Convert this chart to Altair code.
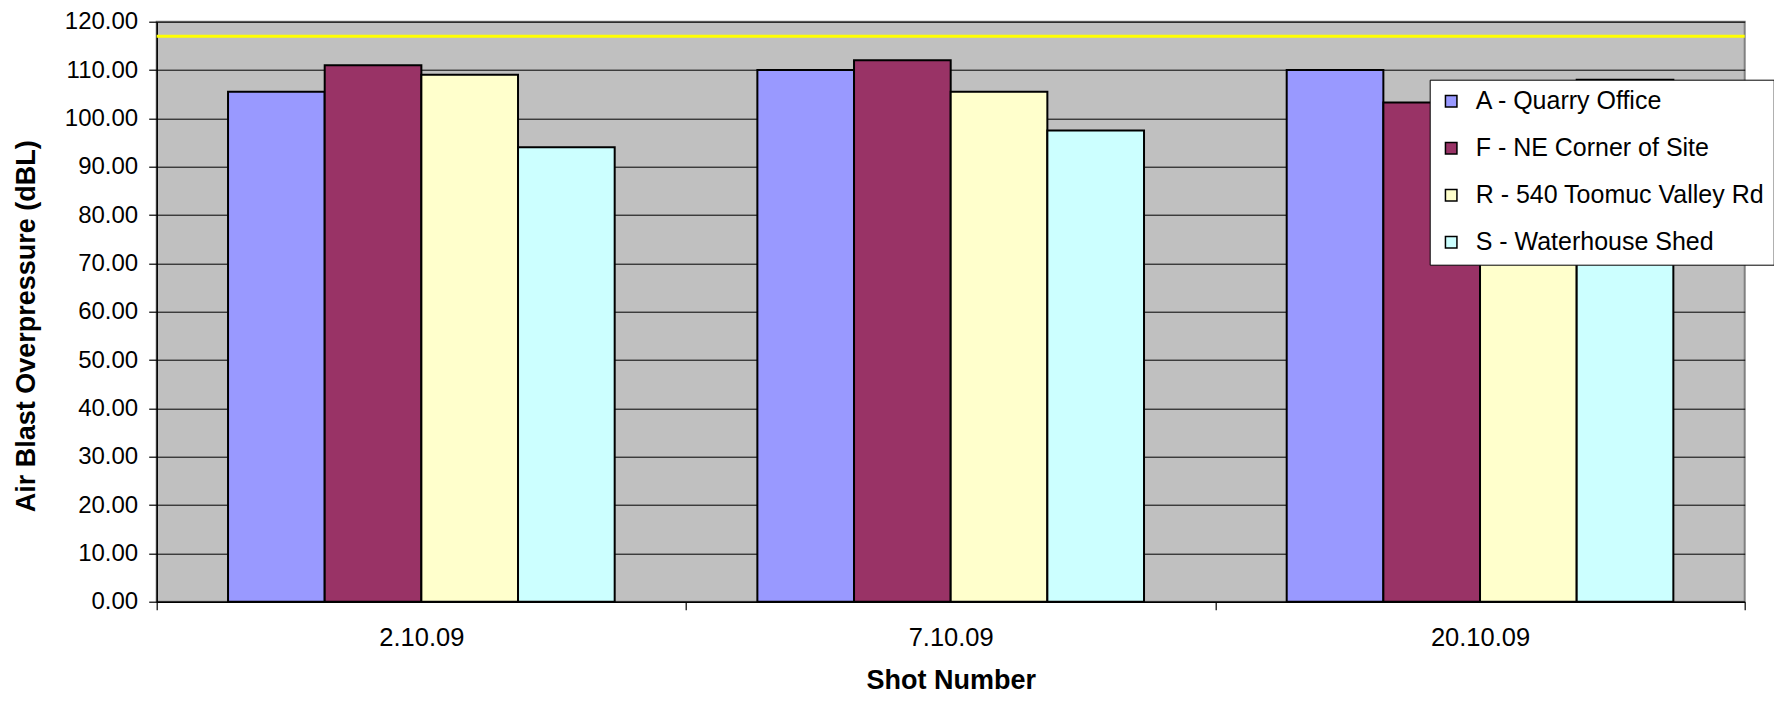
import altair as alt
import pandas as pd

shots = ["2.10.09", "7.10.09", "20.10.09"]
locations = [
    "A - Quarry Office",
    "F - NE Corner of Site",
    "R - 540 Toomuc Valley Rd",
    "S - Waterhouse Shed",
]
a_vals = [105.5, 110.0, 110.0]
f_vals = [111.0, 112.0, 103.3]
r_vals = [109.0, 105.5, 101.0]
s_vals = [94.0, 97.5, 108.0]
colors = ["#9999FF", "#993366", "#FFFFCC", "#CCFFFF"]
limit = [117.0]
y_ticks = [0, 10, 20, 30, 40, 50, 60, 70, 80, 90, 100, 110, 120]

rows = []
for i, s in enumerate(shots):
    for loc, vals in zip(locations, [a_vals, f_vals, r_vals, s_vals]):
        rows.append({"shot": s, "location": loc, "value": vals[i]})
df = pd.DataFrame(rows)

FONT = "Liberation Sans"
W, H = 1588, 580

bars = alt.Chart(df).mark_bar(stroke="black", strokeWidth=2).encode(
    x=alt.X(
        "shot:N",
        sort=shots,
        scale=alt.Scale(paddingInner=0, paddingOuter=0),
        axis=alt.Axis(
            title="Shot Number",
            labelAngle=0,
            labelFontSize=25.5,
            tickBand="extent",
            tickSize=8,
            labelPadding=16,
            titleX=W / 2,
            titleY=87,
            titleBaseline="alphabetic",
            titleAlign="center",
        ),
    ),
    xOffset=alt.XOffset(
        "location:N",
        sort=locations,
        scale=alt.Scale(paddingInner=0, paddingOuter=0.738),
    ),
    y=alt.Y(
        "value:Q",
        scale=alt.Scale(domain=[0, 120], nice=False),
        axis=alt.Axis(
            title="Air Blast Overpressure (dBL)",
            values=y_ticks,
            format=".2f",
            labelFontSize=24,
            tickSize=8,
            labelPadding=11,
            grid=True,
            titleAngle=-90,
            titleX=-122,
            titleY=304,
            titleBaseline="alphabetic",
            titleAlign="center",
        ),
    ),
    color=alt.Color(
        "location:N",
        sort=locations,
        scale=alt.Scale(domain=locations, range=colors),
        legend=alt.Legend(
            title=None,
            orient="none",
            legendX=1273,
            legendY=58,
            fillColor="white",
            strokeColor="black",
            padding=9,
            rowPadding=21,
            symbolType="square",
            symbolSize=132,
            symbolStrokeColor="black",
            symbolStrokeWidth=1.5,
            labelFont=FONT,
            labelFontSize=25,
            labelColor="black",
            labelOffset=12,
            labelLimit=500,
        ),
    ),
)

rule = alt.Chart(pd.DataFrame({"limit": limit})).mark_rule(
    color="#FFFF00", strokeWidth=3
).encode(y="limit:Q")

chart = (
    alt.layer(bars, rule)
    .properties(
        width=W,
        height=H,
        padding={"left": 148.7, "top": 13.7, "right": 29, "bottom": 94.3},
        autosize=alt.AutoSizeParams(type="none"),
    )
    .configure_view(fill="#C0C0C0", stroke="#808080", strokeWidth=2)
    .configure_axis(
        labelFont=FONT,
        labelColor="black",
        titleFont=FONT,
        titleFontSize=27,
        titleFontWeight="bold",
        titleColor="black",
        domainColor="black",
        domainWidth=1.5,
        tickColor="black",
        tickWidth=1.2,
        gridColor="black",
        gridOpacity=1,
        gridWidth=1,
    )
)

chart.save("out.html", embed_options={"renderer": "svg", "actions": False})
